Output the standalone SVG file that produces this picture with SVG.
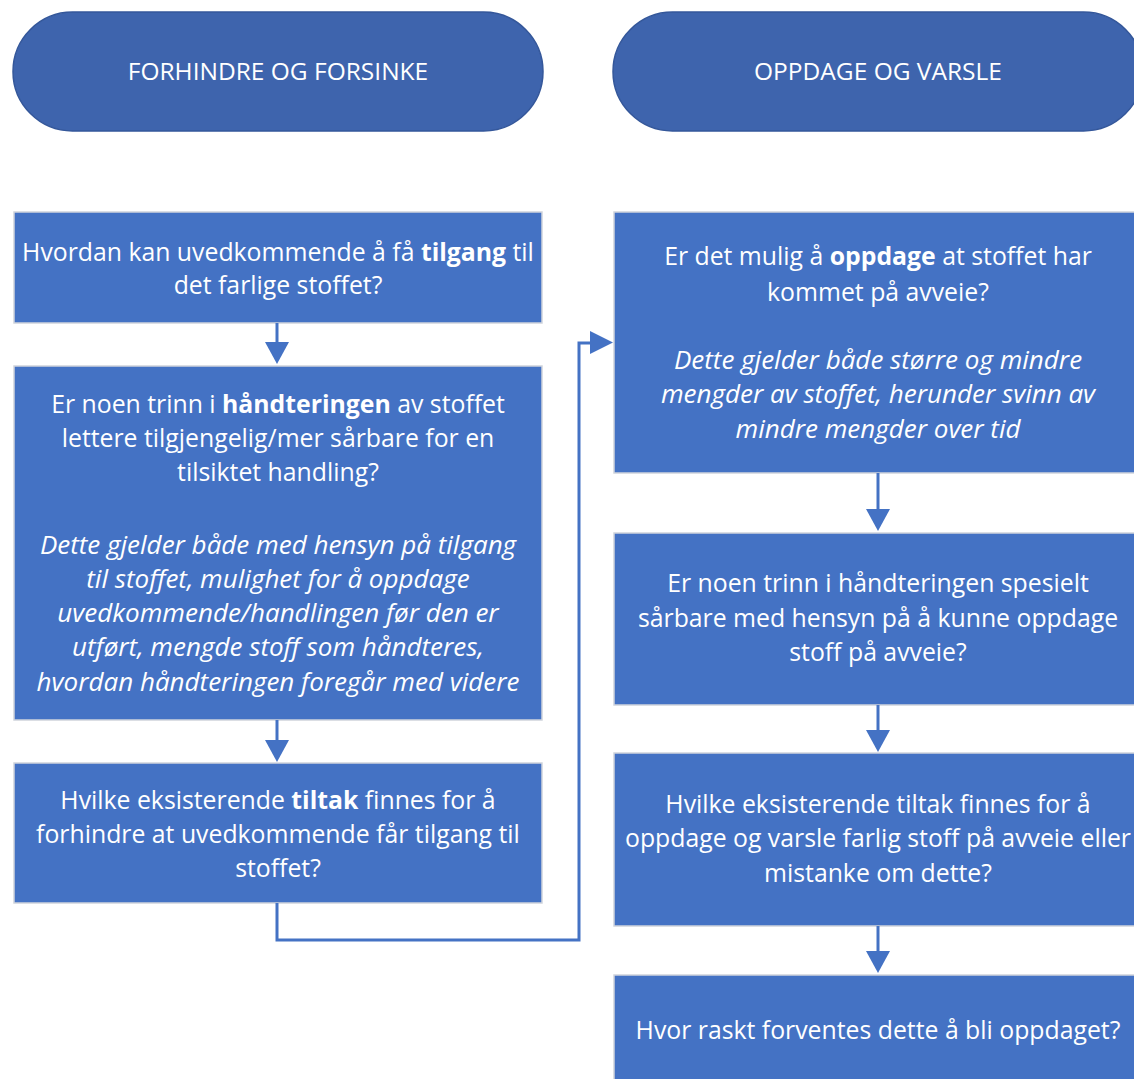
<svg xmlns="http://www.w3.org/2000/svg" width="1134" height="1079" viewBox="0 0 1134 1079">
<style>
.hdr{fill:#3e64ad;stroke:#34579a;stroke-width:1.5}
.box{fill:#4472c4;stroke:#cfd4dc;stroke-width:1.5}
text{font-family:"Open Sans","Noto Sans","DejaVu Sans",sans-serif;font-size:24.8px;fill:#ffffff;text-anchor:middle}
.h{font-size:24.5px}
.i{font-style:italic;font-size:26px}
.b{font-weight:bold}
.con{fill:none;stroke:#4472c4;stroke-width:3}
.ah{fill:#4472c4}
</style>
<rect x="0" y="0" width="1134" height="1079" fill="#ffffff"/>
<g id="header-forhindre">
<rect class="hdr" x="13" y="12" width="530" height="119" rx="59.5"/>
<text class="h" x="278" y="80">FORHINDRE OG FORSINKE</text>
</g>
<g id="header-oppdage">
<rect class="hdr" x="613" y="12" width="530" height="119" rx="59.5"/>
<text class="h" x="878" y="80">OPPDAGE OG VARSLE</text>
</g>
<g id="node-l1">
<rect class="box" x="14" y="212" width="528" height="111"/>
<text x="278" y="261">Hvordan kan uvedkommende å få <tspan class="b">tilgang</tspan> til</text>
<text x="278" y="294">det farlige stoffet?</text>
</g>
<g id="node-l2">
<rect class="box" x="14" y="366" width="528" height="354"/>
<text x="278" y="413">Er noen trinn i <tspan class="b">håndteringen</tspan> av stoffet</text>
<text x="278" y="447">lettere tilgjengelig/mer sårbare for en</text>
<text x="278" y="481">tilsiktet handling?</text>
<text class="i" x="278" y="554">Dette gjelder både med hensyn på tilgang</text>
<text class="i" x="278" y="588">til stoffet, mulighet for å oppdage</text>
<text class="i" x="278" y="622">uvedkommende/handlingen før den er</text>
<text class="i" x="278" y="656">utført, mengde stoff som håndteres,</text>
<text class="i" x="278" y="691">hvordan håndteringen foregår med videre</text>
</g>
<g id="node-l3">
<rect class="box" x="14" y="763" width="528" height="140"/>
<text x="278" y="809">Hvilke eksisterende <tspan class="b">tiltak</tspan> finnes for å</text>
<text x="278" y="843">forhindre at uvedkommende får tilgang til</text>
<text x="278" y="877">stoffet?</text>
</g>
<g id="node-r1">
<rect class="box" x="614" y="212" width="528" height="261"/>
<text x="878" y="265">Er det mulig å <tspan class="b">oppdage</tspan> at stoffet har</text>
<text x="878" y="301">kommet på avveie?</text>
<text class="i" x="878" y="369">Dette gjelder både større og mindre</text>
<text class="i" x="878" y="403">mengder av stoffet, herunder svinn av</text>
<text class="i" x="878" y="438">mindre mengder over tid</text>
</g>
<g id="node-r2">
<rect class="box" x="614" y="533" width="528" height="172"/>
<text x="878" y="592">Er noen trinn i håndteringen spesielt</text>
<text x="878" y="627">sårbare med hensyn på å kunne oppdage</text>
<text x="878" y="661">stoff på avveie?</text>
</g>
<g id="node-r3">
<rect class="box" x="614" y="753" width="528" height="173"/>
<text x="878" y="813">Hvilke eksisterende tiltak finnes for å</text>
<text x="878" y="847">oppdage og varsle farlig stoff på avveie eller</text>
<text x="878" y="882">mistanke om dette?</text>
</g>
<g id="node-r4">
<rect class="box" x="614" y="975" width="528" height="120"/>
<text x="878" y="1039">Hvor raskt forventes dette å bli oppdaget?</text>
</g>
<g id="connectors">
<path class="con" d="M277 323 V343"/>
<polygon class="ah" points="265,342 289,342 277,364"/>
<path class="con" d="M277 720 V741"/>
<polygon class="ah" points="265,740 289,740 277,762"/>
<path class="con" d="M277 903 V940 H579 V343 H591"/>
<polygon class="ah" points="590,331 590,354 613,342.5"/>
<path class="con" d="M878 473 V510"/>
<polygon class="ah" points="866,509 890,509 878,531"/>
<path class="con" d="M878 705 V731"/>
<polygon class="ah" points="866,730 890,730 878,752"/>
<path class="con" d="M878 926 V952"/>
<polygon class="ah" points="866,951 890,951 878,973"/>
</g>
</svg>
